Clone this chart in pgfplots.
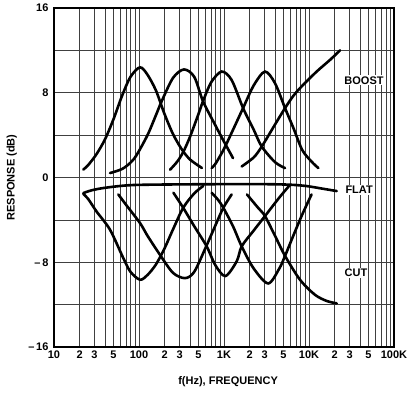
\documentclass[border=0pt]{standalone}
\usepackage{fontspec}
\setmainfont{Liberation Sans}
\usepackage{pgfplots}
\pgfplotsset{compat=1.18}

\pgfplotsset{
  eq/.style={black, line width=2.6pt, smooth, tension=0.5, no markers, line cap=round},
}

\begin{document}
\begin{tikzpicture}[x=1pt,y=1pt]
\path[use as bounding box] (-54,-57) rectangle (355,347);
\begin{semilogxaxis}[
  at={(0,0)}, anchor=south west,
  scale only axis, width=340pt, height=339pt,
  xmin=10, xmax=100000, ymin=-16, ymax=16,
  xtick={10,20,30,50,100,200,300,500,1000,2000,3000,5000,10000,20000,30000,50000,100000},
  xticklabels={10,2,3,5,100,2,3,5,1K,2,3,5,10K,2,3,5,100K},
  minor xtick={40,60,70,80,90,400,600,700,800,900,4000,6000,7000,8000,9000,40000,60000,70000,80000,90000},
  ytick={-16,-8,0,8,16},
  yticklabels={\textendash\,16,\textendash\,8,0,8,16},
  minor ytick={-12,-4,4,12},
  grid=both,
  major grid style={black!75, line width=0.55pt},
  minor grid style={black!75, line width=0.55pt},
  major tick length=0pt, minor tick length=0pt,
  axis line style={line width=1.5pt},
  ticklabel style={font=\bfseries\fontsize{11}{12}\selectfont},
  yticklabel style={xshift=-2pt},
  xlabel={f(Hz), FREQUENCY},
  ylabel={RESPONSE (dB)},
  label style={font=\bfseries\fontsize{11}{12}\selectfont},
  xlabel style={at={(axis description cs:0.512,-0.103)}, anchor=center},
  ylabel style={at={(axis description cs:-0.124,0.5)}, anchor=center},
  clip=false,
]
% boost
\addplot[eq] coordinates {(22.1,0.75)(25.1,1.15)(31.6,2.2)(39.8,3.6)(50.1,5.5)(63.1,7.7)(79.4,9.5)(102.8,10.4)(125.9,9.7)(158.5,8.2)(199.5,6.0)(251.2,4.1)(316.2,2.7)(398.1,1.7)(549.5,0.9)};
\addplot[eq] coordinates {(45.6,0.42)(63.1,0.8)(79.4,1.4)(94.0,2.14)(125.9,4.0)(158.5,5.9)(184.9,7.2)(251.2,9.4)(338.1,10.2)(446.7,9.5)(566.2,7.2)(794.3,4.9)(972.7,3.56)(1276,1.83)};
\addplot[eq] coordinates {(231.7,0.73)(281.8,1.5)(331.1,2.4)(398.1,3.84)(501.2,6.0)(566.2,7.2)(707.9,9.0)(939.7,10.0)(1230,9.2)(1687,6.5)(2239,4.5)(2780,2.92)(3981,1.45)(5224,0.89)};
\addplot[eq] coordinates {(716.1,0.9)(794.3,1.3)(1000,2.7)(1276,4.5)(1687,6.6)(2239,8.7)(3034,10.0)(3981,8.9)(5224,6.55)(6607,4.6)(8318,2.6)(10715,1.5)(12882,0.89)};
\addplot[eq] coordinates {(1614,1.04)(2239,1.9)(2780,2.92)(3981,5.0)(5224,6.55)(6531,7.7)(8204,8.6)(12303,10.0)(17660,11.1)(23174,12.0)};
% flat
\addplot[eq] coordinates {(22.1,-1.47)(28,-1.2)(37.7,-1.0)(60,-0.8)(94,-0.7)(300,-0.65)(1000,-0.63)(3000,-0.63)(5970,-0.68)(9397,-0.81)(14791,-1.07)(21184,-1.28)};
% cut
\addplot[eq] coordinates {(22.1,-1.55)(25.1,-2.0)(31.6,-3.2)(45.6,-4.93)(65.3,-7.6)(79.4,-8.9)(102.8,-9.65)(125.9,-9.2)(158.5,-8.2)(199.5,-6.7)(251.2,-4.9)(331.1,-2.86)(446.7,-1.5)(570.2,-0.8)};
\addplot[eq] coordinates {(57.1,-1.6)(70,-2.55)(102.8,-4.3)(125.9,-5.5)(176.6,-7.3)(251.2,-9.0)(347.5,-9.5)(446.7,-8.9)(625.2,-6.4)(794.3,-4.5)(981.7,-2.86)(1230,-1.6)};
\addplot[eq] coordinates {(254.1,-1.44)(331.1,-2.86)(446.7,-4.6)(625.2,-6.5)(794.3,-8.3)(1040,-9.3)(1413,-7.9)(1614,-6.5)(2239,-5.0)(3034,-3.64)(4467,-1.9)(5970,-0.7)};
\addplot[eq] coordinates {(716.1,-1.44)(850,-2.1)(981.7,-2.86)(1276,-4.6)(1614,-6.5)(2239,-8.6)(3311,-10.0)(4467,-8.6)(5224,-7.4)(6607,-5.4)(8318,-3.5)(10715,-1.6)};
\addplot[eq] coordinates {(1862,-1.6)(2512,-2.85)(3034,-3.64)(3981,-5.5)(5224,-7.4)(7834,-9.65)(11749,-11.07)(16218,-11.66)(21184,-11.88)};

\node[fill=white, inner sep=1pt, font=\bfseries\fontsize{11}{12}\selectfont] at (axis cs:44370,9.17) {BOOST};
\node[fill=white, inner sep=1pt, font=\bfseries\fontsize{11}{12}\selectfont] at (axis cs:38900,-1.16) {FLAT};
\node[fill=white, inner sep=1pt, font=\bfseries\fontsize{11}{12}\selectfont] at (axis cs:35700,-9.0) {CUT};
\end{semilogxaxis}
\end{tikzpicture}
\end{document}
